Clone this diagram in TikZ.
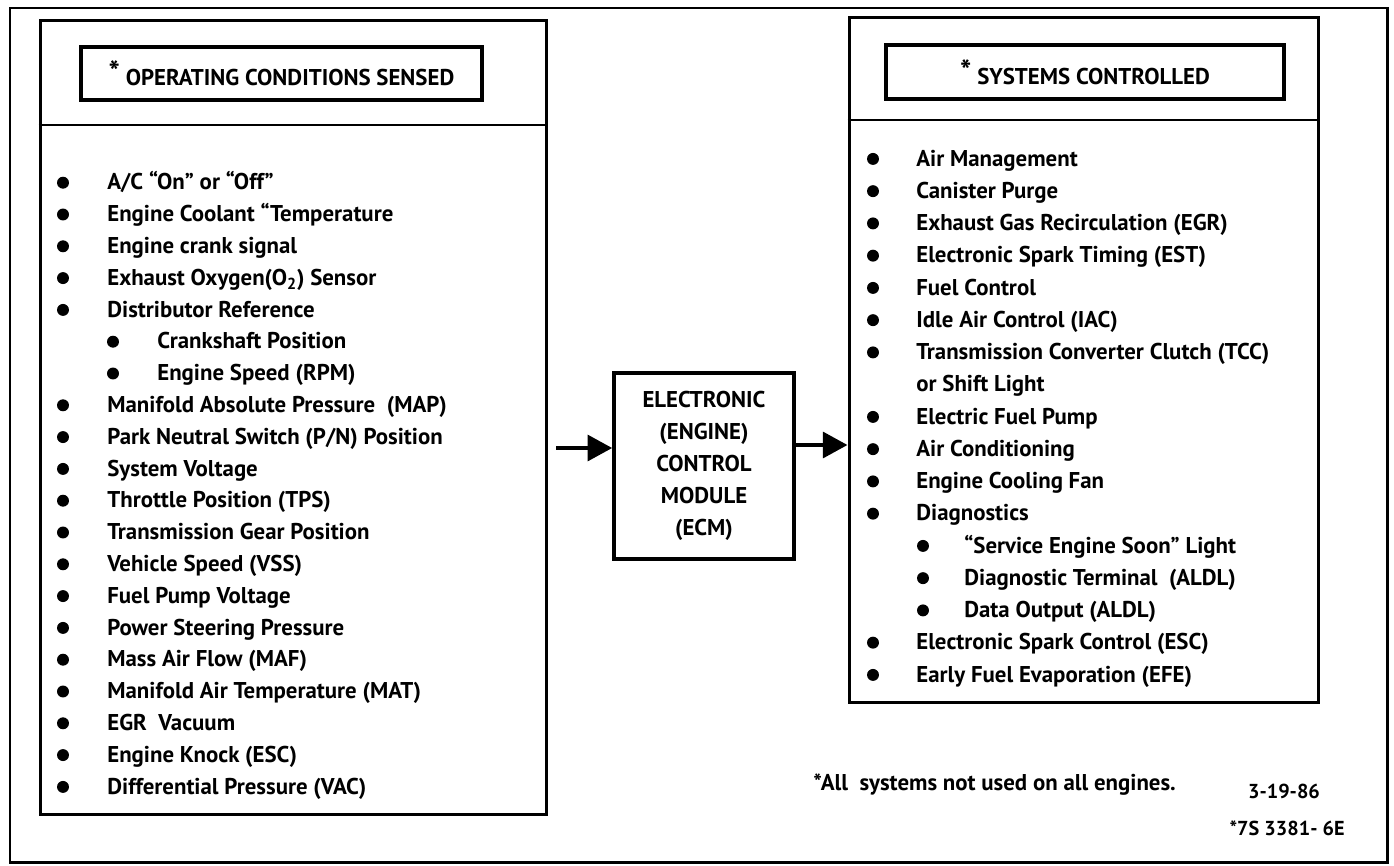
\documentclass[tikz,border=0pt]{standalone}
\usepackage{fontspec}
\setmainfont{PT Sans}
\usetikzlibrary{arrows.meta,calc,positioning}

\newcommand{\headstar}{\raisebox{0.3ex}{\fontsize{17}{17}\selectfont *}}

\tikzset{
  panel/.style={draw, line width=1.7pt, inner sep=0pt},
  headbox/.style={draw, line width=1.9pt, inner sep=0pt, font=\bfseries\fontsize{13}{15}\selectfont},
  item/.style={anchor=west, inner sep=0pt, text height=1.6ex, text depth=0.45ex,
    font=\bfseries\fontsize{13}{15}\selectfont},
  dot/.style={circle, fill, inner sep=0pt, minimum size=6.8pt, yshift=1.2pt},
  flow/.style={line width=2.6pt, -{Triangle[length=14pt,width=14.5pt]}},
}

\begin{document}
\begin{tikzpicture}[x=0.02cm, y=-0.02cm]
\useasboundingbox (0,0) rectangle (1394,866);

% Outer frame
\draw[line width=1.7pt] (10,8) rectangle (1387,862);

% Left panel: operating conditions sensed
\node[panel, minimum width=10.14cm, minimum height=15.9cm] (sensed) at (293.5,417.5) {};
\draw[panel] (sensed.west |- 0,125) -- (sensed.east |- 0,125);
\node[headbox, minimum width=8.02cm, minimum height=1.06cm] (sensedhead) at (281.5,73.5)
  {\headstar\ OPERATING CONDITIONS SENSED};

% Right panel: systems controlled
\node[panel, minimum width=9.4cm, minimum height=13.72cm] (ctrl) at (1084,360) {};
\draw[panel] (ctrl.west |- 0,120) -- (ctrl.east |- 0,120);
\node[headbox, minimum width=7.96cm, minimum height=1.08cm] (ctrlhead) at (1085,72)
  {\headstar\ SYSTEMS CONTROLLED};

% Control module in the middle
\node[draw, line width=2pt, minimum width=3.6cm, minimum height=3.72cm, align=center,
      font=\bfseries\fontsize{13}{18.2}\selectfont] (ecm) at (704,466)
  {ELECTRONIC\\(ENGINE)\\CONTROL\\MODULE\\(ECM)};

% Signal flow
\draw[flow] ($(sensed.east |- 0,448)+(8,0)$) -- (ecm.west |- 0,448);
\draw[flow] (ecm.east |- 0,445) -- (ctrl.west |- 0,445);

% Inputs (0 = item, 1 = sub item)
\foreach \lvl/\txt [count=\i] in {
  0/{A/C ``On'' or ``Off''},
  0/{Engine Coolant ``Temperature},
  0/{Engine crank signal},
  0/{Exhaust Oxygen(O\textsubscript{2}) Sensor},
  0/{Distributor Reference},
  1/{Crankshaft Position},
  1/{Engine Speed (RPM)},
  0/{Manifold Absolute Pressure\ \ (MAP)},
  0/{Park Neutral Switch (P/N) Position},
  0/{System Voltage},
  0/{Throttle Position (TPS)},
  0/{Transmission Gear Position},
  0/{Vehicle Speed (VSS)},
  0/{Fuel Pump Voltage},
  0/{Power Steering Pressure},
  0/{Mass Air Flow (MAF)},
  0/{Manifold Air Temperature (MAT)},
  0/{EGR\ \ Vacuum},
  0/{Engine Knock (ESC)},
  0/{Differential Pressure (VAC)}} {
  \node[dot] (indot-\i) at (63+50*\lvl, 153+31.8*\i) {};
  \node[item] (in-\i) at (107+50*\lvl, 153+31.8*\i) {\txt};
}

% Outputs (0 = item, 1 = sub item, 2 = continued line)
\foreach \lvl/\txt [count=\i] in {
  0/{Air Management},
  0/{Canister Purge},
  0/{Exhaust Gas Recirculation (EGR)},
  0/{Electronic Spark Timing (EST)},
  0/{Fuel Control},
  0/{Idle Air Control (IAC)},
  0/{Transmission Converter Clutch (TCC)},
  2/{or Shift Light},
  0/{Electric Fuel Pump},
  0/{Air Conditioning},
  0/{Engine Cooling Fan},
  0/{Diagnostics},
  1/{``Service Engine Soon'' Light},
  1/{Diagnostic Terminal\ \ (ALDL)},
  1/{Data Output (ALDL)},
  0/{Electronic Spark Control (ESC)},
  0/{Early Fuel Evaporation (EFE)}} {
  \ifnum\lvl<2
    \node[dot] (outdot-\i) at (873+50*\lvl, 128.75+32.25*\i) {};
    \node[item] (out-\i) at (916+48*\lvl, 128.75+32.25*\i) {\txt};
  \else
    \node[item] (out-\i) at (916, 128.75+32.25*\i) {\txt};
  \fi
}

% Footnote and drawing number
\node[item] (note) at (813,785) {*All\ \ systems not used on all engines.};
\node[item, anchor=center, font=\bfseries\fontsize{11.5}{13}\selectfont] (date) at (1284,793) {3-19-86};
\node[item, anchor=east, font=\bfseries\fontsize{11.5}{13}\selectfont] (drawno) at (1345,830) {*7S 3381- 6E};

\end{tikzpicture}
\end{document}
